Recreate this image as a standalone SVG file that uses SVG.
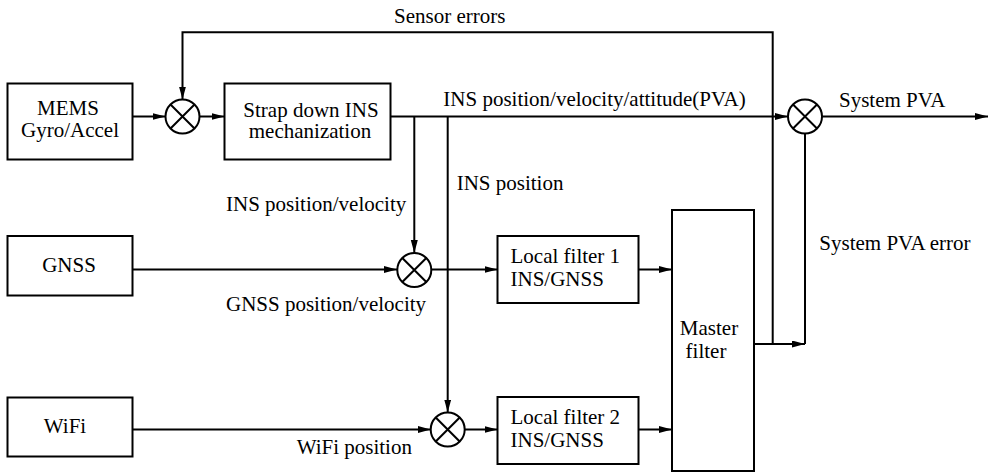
<svg xmlns="http://www.w3.org/2000/svg" width="990" height="473" viewBox="0 0 990 473">
  <style>
    .box { fill: #fff; stroke: #000; stroke-width: 2; }
    .sum { fill: #fff; stroke: #000; stroke-width: 2; }
    .x { stroke: #000; stroke-width: 2; }
    .wire { fill: none; stroke: #000; stroke-width: 2; }
    .arrow { marker-end: url(#head); }
    text { font-family: "Liberation Serif", "Times New Roman", serif; font-size: 21px; fill: #000; }
    .c { text-anchor: middle; }
  </style>
  <defs>
    <marker id="head" markerUnits="userSpaceOnUse" markerWidth="14" markerHeight="8" refX="13" refY="3.5" orient="auto">
      <path d="M0,0 L13,3.5 L0,7 z" fill="#000"/>
    </marker>
  </defs>

  <!-- connectors -->
  <g id="connectors">
    <path class="wire arrow" d="M132.5,116.5 H165.5"/>
    <path class="wire arrow" d="M199.5,116.5 H224.5"/>
    <path class="wire arrow" d="M390.5,116.5 H788"/>
    <path class="wire arrow" d="M822,116.5 H988"/>
    <path class="wire arrow" d="M414.3,116.5 V253"/>
    <path class="wire arrow" d="M447.7,116.5 V412.5"/>
    <path class="wire arrow" d="M132.5,269.5 H397"/>
    <path class="wire arrow" d="M431.3,269.5 H497.5"/>
    <path class="wire arrow" d="M132.5,429.5 H430.7"/>
    <path class="wire arrow" d="M464.7,429.5 H497.5"/>
    <path class="wire arrow" d="M638.5,269.5 H672"/>
    <path class="wire arrow" d="M638.5,429.5 H672"/>
    <path class="wire arrow" d="M754,344 H805"/>
    <path class="wire" d="M805,344 V133.5"/>
    <path class="wire arrow" d="M772.7,344 V32.3 H182.5 V99.5"/>
  </g>

  <!-- summing junctions -->
  <g id="sum1">
    <circle class="sum" cx="182.5" cy="116.5" r="17"/>
    <path class="x" d="M170.5,104.5 L194.5,128.5 M194.5,104.5 L170.5,128.5"/>
  </g>
  <g id="sum2">
    <circle class="sum" cx="805" cy="116.5" r="17"/>
    <path class="x" d="M793,104.5 L817,128.5 M817,104.5 L793,128.5"/>
  </g>
  <g id="sum3">
    <circle class="sum" cx="414.3" cy="270" r="17"/>
    <path class="x" d="M402.3,258 L426.3,282 M426.3,258 L402.3,282"/>
  </g>
  <g id="sum4">
    <circle class="sum" cx="447.7" cy="429.5" r="17"/>
    <path class="x" d="M435.7,417.5 L459.7,441.5 M459.7,417.5 L435.7,441.5"/>
  </g>

  <!-- blocks -->
  <g id="mems">
    <rect class="box" x="7.5" y="83.5" width="125" height="76"/>
    <text class="c" x="68" y="115">MEMS</text>
    <text class="c" x="70" y="137">Gyro/Accel</text>
  </g>
  <g id="strapdown">
    <rect class="box" x="224.5" y="83.5" width="166" height="76"/>
    <text class="c" x="311" y="117">Strap down INS</text>
    <text class="c" x="310" y="138">mechanization</text>
  </g>
  <g id="gnss">
    <rect class="box" x="7.5" y="236" width="125" height="59.5"/>
    <text class="c" x="69" y="272">GNSS</text>
  </g>
  <g id="wifi">
    <rect class="box" x="7.5" y="397.5" width="125" height="59"/>
    <text class="c" x="65" y="432.5">WiFi</text>
  </g>
  <g id="local1">
    <rect class="box" x="497.5" y="236" width="141" height="67"/>
    <text x="510.5" y="262.5">Local filter 1</text>
    <text x="510.5" y="285.7">INS/GNSS</text>
  </g>
  <g id="local2">
    <rect class="box" x="497.5" y="397" width="141" height="67"/>
    <text x="510.5" y="424">Local filter 2</text>
    <text x="510.5" y="447.3">INS/GNSS</text>
  </g>
  <g id="master">
    <rect class="box" x="672" y="210" width="82" height="261"/>
    <text class="c" x="709" y="335">Master</text>
    <text class="c" x="706" y="358.3">filter</text>
  </g>

  <!-- signal labels -->
  <g id="labels">
    <text x="394" y="23">Sensor errors</text>
    <text x="443.3" y="106">INS position/velocity/attitude(PVA)</text>
    <text x="839" y="107">System PVA</text>
    <text x="226" y="211">INS position/velocity</text>
    <text x="456.7" y="190">INS position</text>
    <text x="226" y="311">GNSS position/velocity</text>
    <text x="296.7" y="454.3">WiFi position</text>
    <text x="819.3" y="250">System PVA error</text>
  </g>
</svg>
